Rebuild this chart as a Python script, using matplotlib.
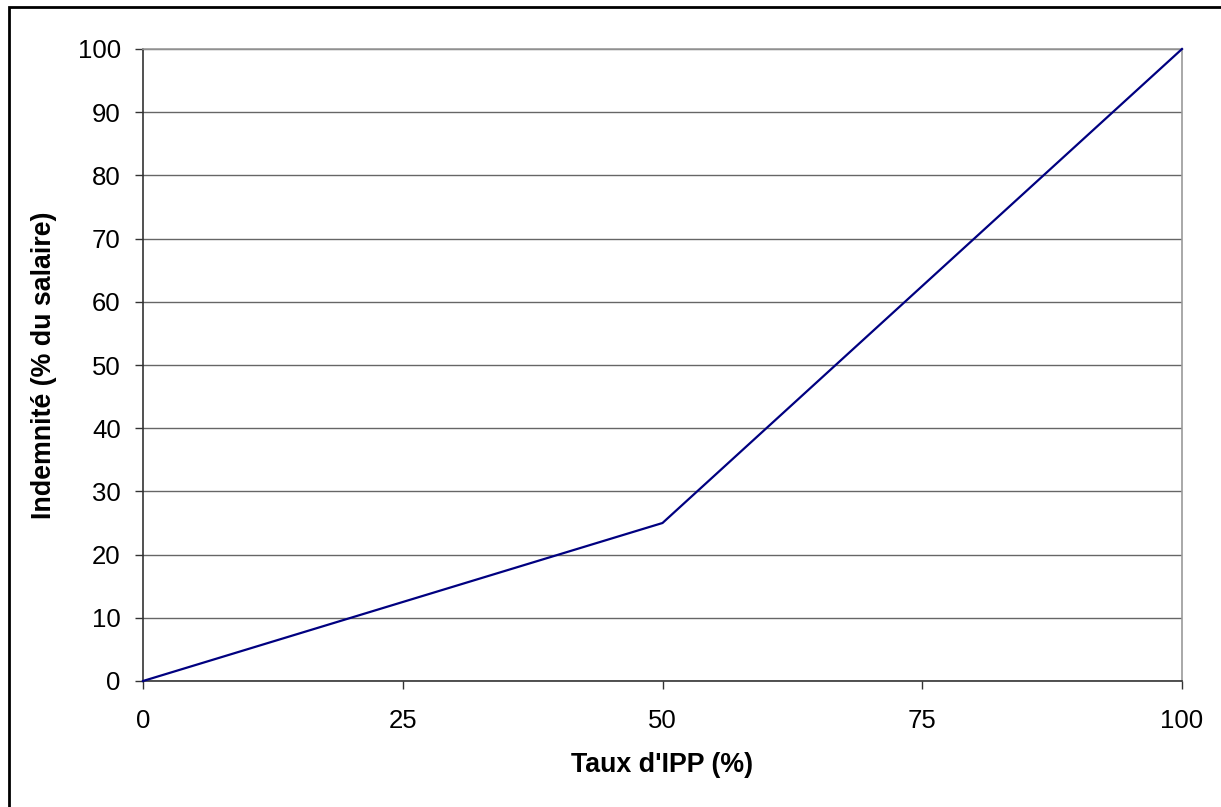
import matplotlib
matplotlib.use("Agg")
import matplotlib.pyplot as plt
from matplotlib.patches import Rectangle

plt.rcParams['font.family'] = ['Liberation Sans', 'DejaVu Sans']

# taux d'IPP (%) et indemnité correspondante (% du salaire)
taux_ipp = [0, 50, 100]
indemnite = [0, 25, 100]

x_ticks = [0, 25, 50, 75, 100]
y_ticks = list(range(0, 101, 10))

fig = plt.figure(figsize=(12.21, 8.07), dpi=100)
W, H = 1221, 807
ax = fig.add_axes([143 / W, 1 - 681 / H, (1182 - 143) / W, (681 - 49) / H])

ax.plot(taux_ipp, indemnite, color='#000080', lw=1.6, zorder=3, clip_on=False)

ax.set_xlim(0, 100)
ax.set_ylim(0, 100)
ax.set_xticks(x_ticks)
ax.set_yticks(y_ticks)
ax.yaxis.grid(True, color='#666666', lw=1.0)
ax.set_axisbelow(True)

for s in ['top', 'right']:
    ax.spines[s].set_color('#999999')
    ax.spines[s].set_linewidth(1.2)
for s in ['left', 'bottom']:
    ax.spines[s].set_color('#333333')
    ax.spines[s].set_linewidth(1.2)

ax.tick_params(axis='both', direction='out', length=6, width=1, color='#333333',
               labelsize=18.5)
ax.tick_params(axis='x', pad=14)
ax.tick_params(axis='y', pad=10)

ax.set_xlabel("Taux d'IPP (%)", fontsize=19.3, fontweight='bold', labelpad=14)
ax.set_ylabel("Indemnité (% du salaire)", fontsize=19.3, fontweight='bold', labelpad=15)

# cadre du graphique
fig.patches.append(Rectangle((9 / W, -0.1), 1.2, 1 - 7 / H + 0.1, transform=fig.transFigure,
                             fill=False, edgecolor='black', lw=2))

fig.savefig('out.png', dpi=100)
